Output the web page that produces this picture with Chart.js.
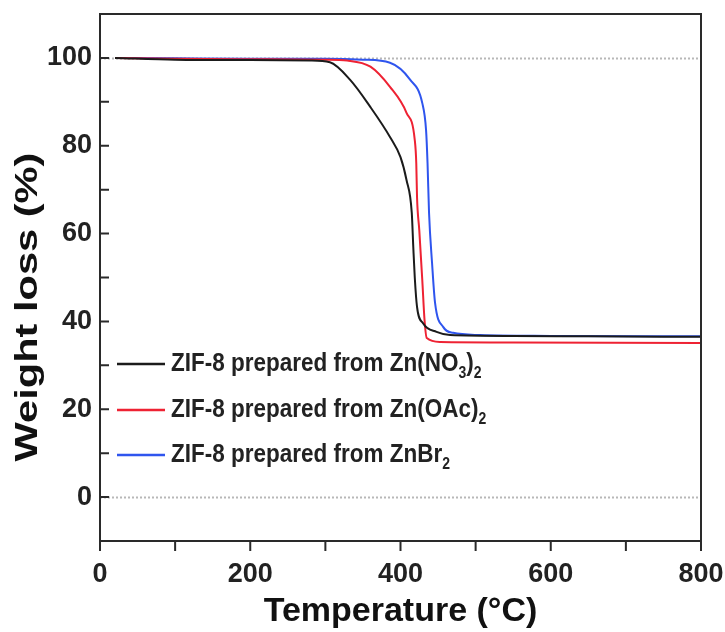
<!DOCTYPE html>
<html>
<head>
<meta charset="utf-8">
<script src="https://cdn.jsdelivr.net/npm/chart.js@4.4.1/dist/chart.umd.min.js"></script>
<style>
  html, body { margin: 0; padding: 0; background: #fff; }
  #wrap { width: 725px; height: 632px; }
</style>
</head>
<body>
<div id="wrap"><canvas id="tga" width="725" height="632"></canvas></div>
<script>
// TGA curves of ZIF-8 made from three zinc salts
const seriesLabels = [
  'ZIF-8 prepared from Zn(NO₃)₂',
  'ZIF-8 prepared from Zn(OAc)₂',
  'ZIF-8 prepared from ZnBr₂'
];
const seriesColors = ['#1b1b1b', '#ee2233', '#2f55ee'];

const tempNitrate   = [20, 100, 200, 280, 306, 333, 360, 386, 400, 408, 415, 417, 419, 422, 430, 448, 466, 550, 650, 800];
const weightNitrate = [100, 99.6, 99.5, 99.4, 99.0, 95.0, 88.8, 82.0, 77.4, 72.2, 64.7, 57.0, 50.0, 43.3, 39.6, 37.6, 36.9, 36.7, 36.6, 36.5];

const tempAcetate   = [20, 100, 200, 300, 329, 360, 386, 408, 419, 421, 422, 425, 429, 432, 435, 453, 550, 800];
const weightAcetate = [100, 99.8, 99.7, 99.6, 99.4, 98.0, 93.4, 87.5, 81.3, 76.0, 68.3, 60.8, 49.4, 40.3, 36.2, 35.3, 35.2, 35.1];

const tempBromide   = [20, 100, 200, 300, 350, 386, 413, 429, 434, 436, 438, 442, 446, 457, 470, 506, 600, 800];
const weightBromide = [100, 99.9, 99.8, 99.8, 99.6, 98.9, 95.0, 89.7, 83.6, 76.0, 64.7, 53.3, 44.2, 38.7, 37.4, 36.9, 36.7, 36.6];

const xTicks = [0, 200, 400, 600, 800];
const xMinorTicks = [100, 300, 500, 700];
const yTicks = [0, 20, 40, 60, 80, 100];
const yMinorTicks = [10, 30, 50, 70, 90];
const refLines = [0, 100];
const yTitle = 'Weight loss (%)';

const pairs = (xs, ys) => xs.map((x, i) => ({ x: x, y: ys[i] }));

const FONT = '"Liberation Sans", Arial, sans-serif';
const AXIS_COLOR = '#2a2a2a';

// frame, tick marks, dotted reference lines and the y title
const framePlugin = {
  id: 'frame',
  beforeDatasetsDraw(chart) {
    const { ctx, chartArea: a, scales: { y } } = chart;
    ctx.save();
    ctx.strokeStyle = '#b8b8b8';
    ctx.lineWidth = 2;
    ctx.setLineDash([2, 2]);
    refLines.forEach(v => {
      const py = Math.round(y.getPixelForValue(v)) + 0.5;
      ctx.beginPath();
      ctx.moveTo(a.left, py);
      ctx.lineTo(a.right, py);
      ctx.stroke();
    });
    ctx.restore();
  },
  afterDatasetsDraw(chart) {
    const { ctx, chartArea: a, scales: { x, y } } = chart;
    ctx.save();
    ctx.strokeStyle = AXIS_COLOR;
    ctx.lineWidth = 2;
    ctx.strokeRect(a.left, a.top, a.right - a.left, a.bottom - a.top);
    ctx.beginPath();
    // y ticks point into the plot
    yTicks.concat(yMinorTicks).forEach(v => {
      const py = y.getPixelForValue(v);
      ctx.moveTo(a.left, py);
      ctx.lineTo(a.left + 9, py);
    });
    // x ticks point down, out of the plot
    xTicks.concat(xMinorTicks).forEach(v => {
      const px = x.getPixelForValue(v);
      ctx.moveTo(px, a.bottom);
      ctx.lineTo(px, a.bottom + 10);
    });
    ctx.stroke();

    // rotated y title, drawn tall and narrow
    ctx.translate(28, 307);
    ctx.rotate(-Math.PI / 2);
    ctx.scale(1.3, 1);
    ctx.fillStyle = '#111';
    ctx.font = 'bold 32px ' + FONT;
    ctx.textAlign = 'center';
    ctx.textBaseline = 'middle';
    ctx.fillText(yTitle, 0, 0);
    ctx.restore();
  }
};

// legend inside the plot, digits written as subscripts
const legendPlugin = {
  id: 'innerLegend',
  afterDraw(chart) {
    const { ctx } = chart;
    const subs = '₀₁₂₃₄₅₆₇₈₉';
    const fontMain = 'bold 22.5px ' + FONT;
    const fontSub = 'bold 14px ' + FONT;
    const rowY = [364, 410, 455];
    const lineX0 = 117, lineX1 = 165, textX = 171;
    const stretch = 1.12;
    ctx.save();
    chart.data.datasets.forEach((ds, i) => {
      const yy = rowY[i];
      ctx.strokeStyle = ds.borderColor;
      ctx.lineWidth = 2.5;
      ctx.beginPath();
      ctx.moveTo(lineX0, yy);
      ctx.lineTo(lineX1, yy);
      ctx.stroke();
      ctx.save();
      ctx.translate(0, yy);
      ctx.scale(1, stretch);
      ctx.fillStyle = '#222';
      ctx.textBaseline = 'middle';
      let cx = textX;
      for (const ch of ds.label) {
        const k = subs.indexOf(ch);
        if (k >= 0) {
          ctx.font = fontSub;
          const s = String(k);
          ctx.fillText(s, cx, 9);
          cx += ctx.measureText(s).width;
        } else {
          ctx.font = fontMain;
          ctx.fillText(ch, cx, 0);
          cx += ctx.measureText(ch).width;
        }
      }
      ctx.restore();
    });
    ctx.restore();
  }
};

const makeSet = (label, xs, ys, color) => ({
  label: label,
  data: pairs(xs, ys),
  borderColor: color,
  backgroundColor: color,
  borderWidth: 2,
  pointRadius: 0,
  fill: false,
  cubicInterpolationMode: 'monotone'
});

new Chart(document.getElementById('tga'), {
  type: 'line',
  data: {
    datasets: [
      makeSet(seriesLabels[0], tempNitrate, weightNitrate, seriesColors[0]),
      makeSet(seriesLabels[1], tempAcetate, weightAcetate, seriesColors[1]),
      makeSet(seriesLabels[2], tempBromide, weightBromide, seriesColors[2])
    ]
  },
  options: {
    responsive: false,
    animation: false,
    devicePixelRatio: 1,
    layout: { padding: { top: 14, right: 24, left: 0, bottom: 0 } },
    plugins: { legend: { display: false }, tooltip: { enabled: false } },
    scales: {
      x: {
        type: 'linear',
        min: 0,
        max: 800,
        afterFit(s) { s.height = 91; s.paddingLeft = 0; s.paddingRight = 0; },
        afterBuildTicks(s) { s.ticks = xTicks.map(v => ({ value: v })); },
        grid: { display: false, drawTicks: false },
        border: { display: false },
        ticks: {
          padding: 17,
          color: '#222',
          font: { family: FONT, size: 27, weight: 'bold' }
        },
        title: {
          display: true,
          text: 'Temperature (°C)',
          color: '#111',
          padding: { top: 0, bottom: 3 },
          font: { family: FONT, size: 34, weight: 'bold', lineHeight: 1 }
        }
      },
      y: {
        type: 'linear',
        min: -10,
        max: 110,
        afterFit(s) { s.width = 100; s.paddingTop = 0; s.paddingBottom = 0; },
        afterBuildTicks(s) { s.ticks = yTicks.map(v => ({ value: v })); },
        grid: { display: false, drawTicks: false },
        border: { display: false },
        ticks: {
          padding: 8,
          color: '#222',
          font: { family: FONT, size: 27, weight: 'bold' }
        },
        title: { display: false }
      }
    }
  },
  plugins: [framePlugin, legendPlugin]
});
</script>
</body>
</html>
